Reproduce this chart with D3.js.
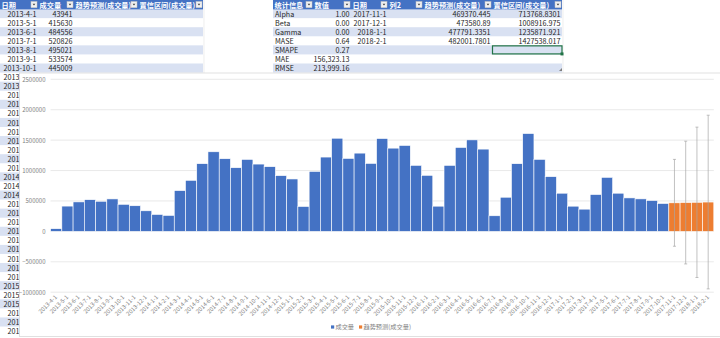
<!DOCTYPE html>
<html>
<head>
<meta charset="utf-8">
<script src="https://cdn.jsdelivr.net/npm/d3@7/dist/d3.min.js"></script>
<style>
  html, body { margin: 0; padding: 0; background: #fff; }
  svg { display: block; }
  text { font-family: "Noto Sans CJK SC", "Liberation Sans", sans-serif; }
</style>
</head>
<body>
<svg id="sheet" width="720" height="338"></svg>
<script>
// Monthly trading volume (成交量) and the forecast that follows it
const dates = [
  "2013-4-1","2013-5-1","2013-6-1","2013-7-1","2013-8-1","2013-9-1","2013-10-1","2013-11-1","2013-12-1",
  "2014-1-1","2014-2-1","2014-3-1","2014-4-1","2014-5-1","2014-6-1","2014-7-1","2014-8-1","2014-9-1","2014-10-1","2014-11-1","2014-12-1",
  "2015-1-1","2015-2-1","2015-3-1","2015-4-1","2015-5-1","2015-6-1","2015-7-1","2015-8-1","2015-9-1","2015-10-1","2015-11-1","2015-12-1",
  "2016-1-1","2016-2-1","2016-3-1","2016-4-1","2016-5-1","2016-6-1","2016-7-1","2016-8-1","2016-9-1","2016-10-1","2016-11-1","2016-12-1",
  "2017-1-1","2017-2-1","2017-3-1","2017-4-1","2017-5-1","2017-6-1","2017-7-1","2017-8-1","2017-9-1","2017-10-1"
];
const volume = [
  43941, 415630, 484556, 520826, 495021, 533574, 445009, 421360, 338240,
  278150, 262480, 670320, 839560, 1112870, 1308420, 1194250, 1046380, 1183170, 1106290, 1063540, 916230,
  861470, 409380, 986120, 1221560, 1531240, 1199370, 1286450, 1117260, 1526180, 1368340, 1412570, 1085430,
  921360, 414250, 1085170, 1379460, 1504280, 1352360, 256470, 561280, 1112390, 1608150, 1183420, 899260,
  627310, 414180, 365240, 605370, 888160, 627450, 550280, 534170, 507290, 458360
];
const forecastDates = ["2017-11-1", "2017-12-1", "2018-1-1", "2018-2-1"];
const forecast = [469370.445, 473580.89, 477791.3351, 482001.7801];
const confidence = [713768.8301, 1008916.975, 1235871.921, 1427538.017];

// Summary statistics of the forecast model
const statNames = ["Alpha", "Beta", "Gamma", "MASE", "SMAPE", "MAE", "RMSE"];
const statValues = ["1.00", "0.00", "0.00", "0.64", "0.27", "156,323.13", "213,999.16"];

// Axis ticks and legend entries
const yTicks = [-1000000, -500000, 0, 500000, 1000000, 1500000, 2000000, 2500000];
const seriesNames = ["成交量", "趋势预测(成交量)"];
const headers1 = ["日期", "成交量", "趋势预测(成交量)", "置信区间(成交量)"];
const headers2 = ["统计信息", "数值", "日期", "列2", "趋势预测(成交量)", "置信区间(成交量)"];

const BLUE = "#4472C4", ORANGE = "#ED7D31", BAND = "#D9E1F2", HEAD = "#4472C4";
const svg = d3.select("#sheet");
const rowH = 9.07;
const rowTop = r => r * rowH;
const fs = 7.2;
const CHART_LEFT = 19.5, CHART_TOP = 73;

function dropdown(g, x, y) {
  g.append("rect").attr("x", x).attr("y", y).attr("width", 6).attr("height", 6.2)
    .attr("fill", "#F2F2F2").attr("stroke", "#BFBFBF").attr("stroke-width", 0.5);
  g.append("path").attr("d", `M${x + 1.6},${y + 2.3}L${x + 4.4},${y + 2.3}L${x + 3},${y + 4.1}Z`)
    .attr("fill", "#404040");
}

// Cell text; where the chart sits over the cell only the part left of the chart is kept
function cellLabel(g, t, x, yc, anchor) {
  const el = g.append("text").attr("x", x).attr("y", yc).attr("dy", "0.36em")
    .attr("text-anchor", anchor).attr("font-size", fs).attr("fill", "#262626").text(t);
  if (yc < CHART_TOP) return;
  const node = el.node();
  const L = node.getComputedTextLength();
  const start = anchor === "end" ? x - L : x;
  if (start >= CHART_LEFT) { el.remove(); return; }
  let n = t.length;
  while (n > 0 && start + node.getSubStringLength(0, n) > CHART_LEFT + 0.8) n--;
  el.attr("text-anchor", "start").attr("x", start).text(t.slice(0, n));
}

function drawTable(edges, headers, nRows, cellText) {
  const g = svg.append("g");
  const x0 = edges[0], x1 = edges[edges.length - 1];
  for (let r = 1; r <= nRows; r++) {
    if (r % 2 === 1) {
      g.append("rect").attr("x", x0).attr("y", rowTop(r)).attr("width", x1 - x0).attr("height", rowH)
        .attr("fill", BAND);
    }
  }
  g.append("rect").attr("x", x0).attr("y", 0).attr("width", x1 - x0).attr("height", rowH + 0.3).attr("fill", HEAD);
  headers.forEach((h, i) => {
    g.append("text").attr("x", edges[i] + 1.5).attr("y", 5).attr("dy", "0.36em")
      .attr("font-size", fs).attr("font-weight", "bold").attr("fill", "#fff").text(h);
    dropdown(g, edges[i + 1] - 7, 1.5);
  });
  for (let r = 1; r <= nRows; r++) {
    headers.forEach((h, c) => {
      const t = cellText(r - 1, c);
      if (!t) return;
      const left = t.align === "left";
      cellLabel(g, t.text, left ? edges[c] + 2 : edges[c + 1] - 1.5, rowTop(r) + 5, left ? "start" : "end");
    });
  }
  return g;
}

// faint sheet gridlines
svg.append("line").attr("x1", 204).attr("x2", 204).attr("y1", 0).attr("y2", 73).attr("stroke", "#E3E3E3").attr("stroke-width", 0.6);
svg.append("line").attr("x1", 563).attr("x2", 563).attr("y1", 0).attr("y2", 73).attr("stroke", "#E3E3E3").attr("stroke-width", 0.6);

// Left table: date / volume
drawTable([0, 38, 74, 138, 203], headers1, 36, (i, c) => {
  if (c === 0) return { text: dates[i], align: "right" };
  if (c === 1) return { text: String(volume[i]), align: "right" };
  return null;
});

// Right table: statistics + forecast values
drawTable([273, 313, 351, 388, 423, 492, 562], headers2, 7, (i, c) => {
  if (c === 0) return { text: statNames[i], align: "left" };
  if (c === 1) return { text: statValues[i], align: "right" };
  if (i < forecastDates.length) {
    if (c === 2) return { text: forecastDates[i], align: "right" };
    if (c === 4) return { text: String(forecast[i]), align: "right" };
    if (c === 5) return { text: String(confidence[i]), align: "right" };
  }
  return null;
});

// active cell
svg.append("rect").attr("x", 492.5).attr("y", rowTop(5) + 0.5).attr("width", 69.5).attr("height", rowH - 1)
  .attr("fill", "none").attr("stroke", "#217346").attr("stroke-width", 1.2);
svg.append("rect").attr("x", 560.5).attr("y", rowTop(6) - 2).attr("width", 3).attr("height", 3).attr("fill", "#217346");
svg.append("path").attr("d", `M559,${rowTop(8) - 1.5}L562,${rowTop(8) - 1.5}L562,${rowTop(8) - 4.5}Z`).attr("fill", "#7F7F7F");

// ---------------- Chart ----------------
const chart = svg.append("g");
chart.append("rect").attr("x", CHART_LEFT).attr("y", CHART_TOP).attr("width", 705).attr("height", 263.5)
  .attr("fill", "#fff").attr("stroke", "#D9D9D9").attr("stroke-width", 0.8);

const categories = dates.concat(forecastDates);
const x = d3.scaleBand().domain(categories).range([50.6, 713.8]).padding(0);
const y = d3.scaleLinear().domain([-1000000, 2500000]).range([292.2, 79.3]);

// gridlines
chart.append("g").selectAll("line").data(yTicks).join("line")
  .attr("x1", x.range()[0]).attr("x2", x.range()[1])
  .attr("y1", d => y(d)).attr("y2", d => y(d))
  .attr("stroke", "#E3E3E3").attr("stroke-width", 0.8);

// y axis labels
const yAxis = d3.axisLeft(y).tickValues(yTicks).tickSize(0).tickPadding(0).tickFormat(d3.format("d"));
chart.append("g").attr("transform", "translate(45.5,0)").call(yAxis)
  .call(g => g.select(".domain").remove())
  .call(g => g.selectAll("text").attr("font-size", 6).attr("fill", "#7F7F7F")
    .attr("font-family", "'Noto Sans CJK SC', 'Liberation Sans', sans-serif"));

// actual volume bars
chart.append("g").selectAll("rect").data(volume).join("rect")
  .attr("x", (d, i) => x(dates[i]))
  .attr("width", x.bandwidth())
  .attr("y", d => y(Math.max(0, d)))
  .attr("height", d => Math.abs(y(d) - y(0)))
  .attr("fill", BLUE).attr("stroke", "#fff").attr("stroke-width", 0.6);

// forecast bars
chart.append("g").selectAll("rect").data(forecast).join("rect")
  .attr("x", (d, i) => x(forecastDates[i]))
  .attr("width", x.bandwidth())
  .attr("y", d => y(d))
  .attr("height", d => y(0) - y(d))
  .attr("fill", ORANGE).attr("stroke", "#fff").attr("stroke-width", 0.6);

// confidence interval error bars
const eb = chart.append("g").attr("stroke", "#A6A6A6").attr("stroke-width", 0.7);
forecast.forEach((v, i) => {
  const cx = x(forecastDates[i]) + x.bandwidth() / 2;
  const hi = y(v + confidence[i]), lo = y(v - confidence[i]);
  eb.append("line").attr("x1", cx).attr("x2", cx).attr("y1", hi).attr("y2", lo);
  eb.append("line").attr("x1", cx - 1.5).attr("x2", cx + 1.5).attr("y1", hi).attr("y2", hi);
  eb.append("line").attr("x1", cx - 1.5).attr("x2", cx + 1.5).attr("y1", lo).attr("y2", lo);
});

// category labels, rotated
const xAxis = d3.axisBottom(x).tickSize(0).tickPadding(0);
chart.append("g").attr("transform", `translate(0,${y(-1000000) + 4})`).call(xAxis)
  .call(g => g.select(".domain").remove())
  .call(g => g.selectAll("text")
    .attr("font-size", 5.8).attr("fill", "#7F7F7F")
    .attr("font-family", "'Noto Sans CJK SC', 'Liberation Sans', sans-serif")
    .attr("text-anchor", "end").attr("dy", "0.3em").attr("y", 0).attr("x", 0)
    .attr("transform", "rotate(-45)"));

// legend
const legend = chart.append("g").attr("transform", "translate(331,327)");
const legendX = [0, 28];
seriesNames.forEach((n, i) => {
  const lg = legend.append("g").attr("transform", `translate(${legendX[i]},0)`);
  lg.append("rect").attr("x", 0).attr("y", -1.6).attr("width", 3.2).attr("height", 3.2)
    .attr("fill", i === 0 ? BLUE : ORANGE);
  lg.append("text").attr("x", 4.5).attr("y", 0).attr("dy", "0.35em")
    .attr("font-size", 6.2).attr("fill", "#7F7F7F").text(n);
});
</script>
</body>
</html>
